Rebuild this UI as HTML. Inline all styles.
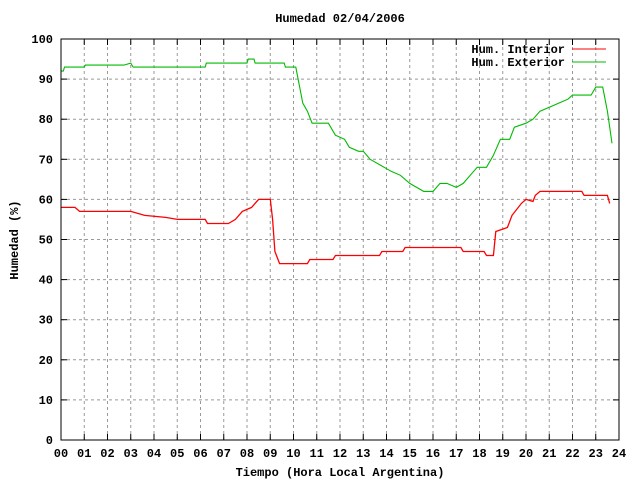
<!DOCTYPE html>
<html><head><meta charset="utf-8"><style>
body{margin:0;background:#fff}
svg{display:block;font-family:"Liberation Mono",monospace;font-size:12px;font-weight:bold}
</style></head><body>
<svg id="chart" width="640" height="480">
<rect width="640" height="480" fill="#fff"/>
<text x="340" y="22" text-anchor="middle">Humedad 02/04/2006</text>
<text x="340" y="476" text-anchor="middle">Tiempo (Hora Local Argentina)</text>
<text transform="translate(18,240) rotate(-90)" text-anchor="middle">Humedad (%)</text>
<g id="grid"></g><g id="ticks"></g><g id="series"></g>
<rect x="61" y="39" width="558" height="401" fill="none" stroke="#000"/>
<g>
<text x="565" y="53" text-anchor="end">Hum. Interior</text>
<line x1="572" y1="49" x2="606" y2="49" stroke="#f00"/>
<text x="565" y="66" text-anchor="end">Hum. Exterior</text>
<line x1="572" y1="62" x2="606" y2="62" stroke="#0b0"/>
</g>
</svg>
<script>
const xTicks=["00","01","02","03","04","05","06","07","08","09","10","11","12","13","14","15","16","17","18","19","20","21","22","23","24"];
const yTicks=[0,10,20,30,40,50,60,70,80,90,100];
const extHours=[0,0.1,0.15,1.0,1.05,2.7,3.0,3.1,3.2,6.2,6.25,8.0,8.05,8.3,8.35,9.6,9.65,10.1,10.2,10.4,10.6,10.8,11.5,11.8,12.2,12.4,12.8,13.0,13.3,13.6,14.2,14.6,15.0,15.3,15.6,16.0,16.3,16.6,17.0,17.3,17.6,17.9,18.3,18.6,18.9,19.3,19.5,20.0,20.3,20.6,21.0,21.4,21.8,22.0,22.8,23.0,23.3,23.5,23.6,23.7];
const extValues=[92,92,93,93,93.5,93.5,94,93,93,93,94,94,95,95,94,94,93,93,90,84,82,79,79,76,75,73,72,72,70,69,67,66,64,63,62,62,64,64,63,64,66,68,68,71,75,75,78,79,80,82,83,84,85,86,86,88,88,82,78,74];
const intHours=[0,0.6,0.8,2.5,3.0,3.6,4.5,5.0,6.2,6.3,7.2,7.5,7.8,8.2,8.5,9.0,9.1,9.2,9.4,10.6,10.7,11.7,11.8,13.7,13.8,14.7,14.8,17.2,17.3,18.2,18.3,18.6,18.7,19.2,19.4,19.8,20.0,20.3,20.4,20.6,22.4,22.5,23.5,23.6];
const intValues=[58,58,57,57,57,56,55.5,55,55,54,54,55,57,58,60,60,55,47,44,44,45,45,46,46,47,47,48,48,47,47,46,46,52,53,56,59,60,59.5,61,62,62,61,61,59];
const X0=61,X1=619,Y0=440,Y1=39;
const xs=h=>X0+h/24*(X1-X0), ys=v=>Y0-v/100*(Y0-Y1);
const NS="http://www.w3.org/2000/svg";
const grid=document.getElementById('grid'),ticks=document.getElementById('ticks'),ser=document.getElementById('series');
function mk(tag,a,p){const e=document.createElementNS(NS,tag);for(const k in a)e.setAttribute(k,a[k]);p.appendChild(e);return e;}
xTicks.forEach((t,i)=>{const x=xs(i);
 if(i>0&&i<24){const g=mk('line',{x1:x,y1:Y0,x2:x,y2:Y1,stroke:'#999','stroke-dasharray':'3,3'},grid);
 
 }
 const l=mk('text',{x:x,y:457,'text-anchor':'middle'},ticks);l.textContent=t;
 
 
 mk('line',{x1:x,y1:Y0,x2:x,y2:Y0-6,stroke:'#000'},ticks);mk('line',{x1:x,y1:Y1,x2:x,y2:Y1+6,stroke:'#000'},ticks);});
yTicks.forEach(v=>{const y=ys(v);
 if(v>0&&v<100){const g=mk('line',{x1:X0,y1:y,x2:X1,y2:y,stroke:'#999','stroke-dasharray':'3,3'},grid);
 
 }
 const l=mk('text',{x:53,y:y+4,'text-anchor':'end'},ticks);l.textContent=v;
 
 
 mk('line',{x1:X0,y1:y,x2:X0+6,y2:y,stroke:'#000'},ticks);mk('line',{x1:X1,y1:y,x2:X1-6,y2:y,stroke:'#000'},ticks);});
function path(hs,vs){let d='';hs.forEach((h,i)=>{d+=(i?'L':'M')+xs(h).toFixed(1)+','+ys(vs[i]).toFixed(1);});return d;}
const pi=mk('path',{d:path(intHours,intValues),fill:'none',stroke:'#f00','stroke-width':1.3},ser);


const pe=mk('path',{d:path(extHours,extValues),fill:'none',stroke:'#0b0','stroke-width':1.1},ser);


</script>
</body></html>
